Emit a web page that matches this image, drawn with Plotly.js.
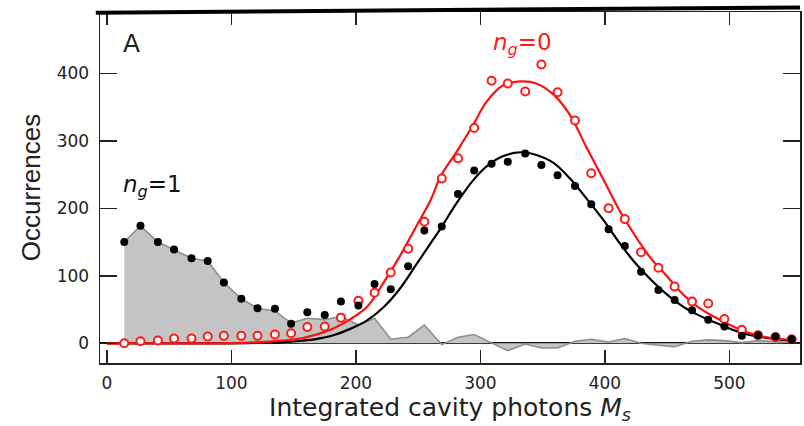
<!DOCTYPE html>
<html><head><meta charset="utf-8">
<script src="https://cdn.plot.ly/plotly-3.0.1.min.js"></script>
<style>html,body{margin:0;padding:0;background:#fff}#chart{width:804px;height:426px}</style>
</head><body><div id="chart"></div>
<script>
// Histogram bin centres (integrated cavity photons M_s)
const binCenters = [14, 27, 41, 54, 68, 81, 94, 108, 121, 135, 148, 161, 175, 188, 202, 215, 228, 242, 255, 269, 282, 295, 309, 322, 336, 349, 362, 376, 389, 403, 416, 429, 443, 456, 470, 483, 496, 510, 523, 537, 550];
// All events (black dots)
const totalCounts = [150, 174, 150, 139, 126, 122, 90, 66, 52, 51, 29, 46, 42, 62, 56, 88, 80, 114, 167, 173, 221, 256, 266, 269, 281, 264, 249, 233, 206, 169, 144, 106, 79, 64, 49, 35, 25, 11, 12, 10, 6];
// n_g = 0 events (red open circles)
const ng0Counts = [0, 3, 4, 7, 7, 10, 11, 11, 11, 13, 15, 24, 25, 38, 63, 75, 105, 140, 180, 244, 274, 319, 389, 385, 373, 413, 372, 330, 252, 200, 184, 135, 112, 84, 62, 59, 36, 20, 12, 9, 6];
// n_g = 1 residual (grey shaded)
const ng1Counts = [150, 174, 150, 139, 126, 122, 90, 66, 52, 48, 30, 37, 35, 40, 27, 37, 6, 9, 27, -2, 9, 13, 0, -11, -1, -7, -7, 3, 6, 2, 7, 0, -3, -5, 3, 5, 4, 1, 4, 2, 1];
// Fitted distributions
const fitX = [0, 100, 120, 140, 155, 170, 182, 195, 209, 222, 235, 249, 260, 268, 281, 294, 305, 318, 332, 345, 359, 372, 385, 399, 412, 423, 436, 450, 463, 476, 490, 503, 516, 530, 550];
const fitNg0 = [0, 0.3, 1.5, 4, 7, 14, 22, 35, 54, 89, 128, 175, 212, 247, 284, 323, 358, 382, 388, 385, 368, 338, 291, 242, 196, 163, 128, 99, 72, 52, 37, 25, 15, 9, 5];
const fitAll = [0, 0, 0.5, 1.5, 3.4, 7, 12, 21, 34, 53, 80, 118, 148, 170, 208, 241, 262, 277, 283, 279, 267, 244, 215, 182, 148, 122, 96, 72, 54, 41, 29.6, 19.7, 12.3, 8, 4];

const xTicks = [0, 100, 200, 300, 400, 500];
const yTicks = [0, 100, 200, 300, 400];

const traces = [
  {x: binCenters, y: ng1Counts, type: 'scatter', mode: 'lines', fill: 'tozeroy',
   fillcolor: '#c4c4c4', line: {color: '#8e8e8e', width: 1.6}, hoverinfo: 'skip'},
  {x: fitX, y: fitAll, type: 'scatter', mode: 'lines', line: {color: '#000', width: 2.2, shape: 'spline'}},
  {x: fitX, y: fitNg0, type: 'scatter', mode: 'lines', line: {color: '#ff1010', width: 2.2, shape: 'spline'}},
  {x: binCenters, y: ng0Counts, type: 'scatter', mode: 'markers',
   marker: {symbol: 'circle', size: 8, color: '#fff', line: {color: '#ff1a1a', width: 2}}},
  {x: binCenters, y: totalCounts, type: 'scatter', mode: 'markers',
   marker: {symbol: 'circle', size: 8, color: '#000'}}
];

const tickFont = {family: 'DejaVu Sans, Liberation Sans, sans-serif', size: 17, color: '#222'};

const layout = {
  width: 804, height: 426,
  margin: {l: 100, r: 4, t: 12, b: 63},
  paper_bgcolor: '#fff', plot_bgcolor: '#fff',
  showlegend: false,
  xaxis: {
    range: [-5.5, 556.7], tickvals: xTicks, ticktext: xTicks.map(String),
    ticks: 'inside', ticklen: 13, tickwidth: 1.5, tickcolor: '#222',
    showline: true, linecolor: '#222', linewidth: 1.5, mirror: 'ticks',
    showgrid: false, zeroline: false, tickfont: tickFont, ticklabelstandoff: 4,
    title: {text: 'Integrated cavity photons <i>M</i><sub><i>s</i></sub>',
            font: {family: 'DejaVu Sans, sans-serif', size: 25, color: '#222'}, standoff: 5}
  },
  yaxis: {
    range: [-29.2, 490.8], tickvals: yTicks, ticktext: yTicks.map(String),
    ticks: 'inside', ticklen: 17, tickwidth: 1.5, tickcolor: '#222',
    showline: true, linecolor: '#222', linewidth: 1.5, mirror: 'ticks',
    showgrid: false, zeroline: true, zerolinecolor: '#111', zerolinewidth: 1.6,
    tickfont: tickFont, ticklabelstandoff: 6,
    title: {text: 'Occurrences', font: {family: 'Liberation Sans, Arial, sans-serif', size: 26, color: '#222'}, standoff: 8}
  },
  shapes: [
    {type: 'line', xref: 'paper', yref: 'paper', x0: -0.006, y0: 0.998, x1: 1.0, y1: 1.013,
     line: {color: '#000', width: 4}}
  ],
  annotations: [
    {text: 'A', xref: 'paper', yref: 'paper', x: 0.03, y: 0.91, xanchor: 'left', yanchor: 'middle',
     showarrow: false, font: {family: 'DejaVu Sans, sans-serif', size: 25, color: '#222'}},
    {text: '<i>n</i><sub><i>g</i></sub>=0', xref: 'paper', yref: 'paper', x: 0.603, y: 0.91,
     xanchor: 'center', yanchor: 'middle', showarrow: false,
     font: {family: 'DejaVu Sans, sans-serif', size: 23, color: '#ff1a1a'}},
    {text: '<i>n</i><sub><i>g</i></sub>=1', xref: 'paper', yref: 'paper', x: 0.03, y: 0.505,
     xanchor: 'left', yanchor: 'middle', showarrow: false,
     font: {family: 'DejaVu Sans, sans-serif', size: 23, color: '#111'}}
  ]
};

Plotly.newPlot('chart', traces, layout, {displayModeBar: false, staticPlot: true});
</script>
</body></html>
